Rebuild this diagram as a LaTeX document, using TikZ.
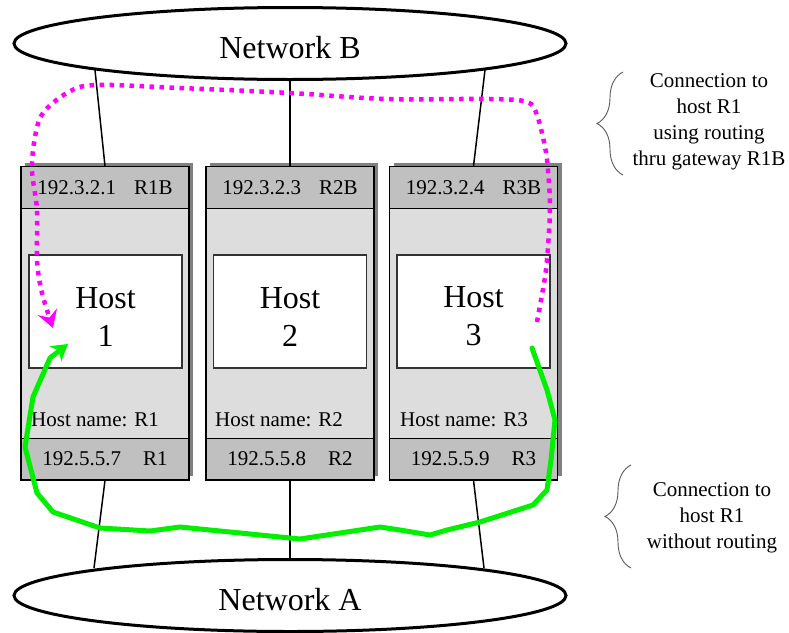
\documentclass[tikz,border=0pt]{standalone}
\usepackage{fontspec}
\setmainfont{Liberation Serif}
\usetikzlibrary{shapes.geometric,shadows,arrows.meta,decorations.pathreplacing}
\definecolor{hdrgray}{HTML}{C0C0C0}
\definecolor{bodygray}{HTML}{DDDDDD}
\definecolor{shadowgray}{HTML}{808080}
\definecolor{magline}{HTML}{FF00FF}
\definecolor{grnline}{HTML}{00F000}
\begin{document}
\begin{tikzpicture}[x=1pt,y=-1pt,
  net/.style={ellipse, draw, line width=3pt, fill=white, minimum width=552pt, minimum height=72pt, inner sep=0pt, font=\fontsize{32}{38}\selectfont},
  hostbody/.style={rectangle, draw, line width=1.3pt, fill=bodygray, minimum width=168pt, minimum height=313pt, inner sep=0pt, drop shadow={shadow xshift=4pt, shadow yshift=4pt, fill=shadowgray, opacity=1}},
  band/.style={rectangle, draw, line width=1.3pt, fill=hdrgray, minimum width=168pt, minimum height=41.5pt, inner sep=0pt, font=\fontsize{21}{25}\selectfont},
  hostbox/.style={rectangle, draw=black!80, line width=1.1pt, fill=white, minimum width=153pt, minimum height=113pt, inner sep=0pt, align=center, font=\fontsize{32}{38}\selectfont},
  hname/.style={anchor=west, inner sep=0pt, font=\fontsize{21}{25}\selectfont},
  wire/.style={line width=1.5pt},
  note/.style={align=center, inner sep=0pt, font=\fontsize{21}{26}\selectfont},
  notebrace/.style={draw=black!65, line width=0.9pt, decorate, decoration={brace, amplitude=26pt}},
  magpath/.style={draw=magline, line width=4.5pt, dash pattern=on 4.5pt off 5.5pt, -{Stealth[length=17pt, width=20pt, inset=6pt]}},
  grnpath/.style={draw=grnline, line width=5pt, line join=round, line cap=round, -{Stealth[length=16pt, width=19pt, inset=5pt]}}
]
\useasboundingbox (0,0) rectangle (789,632);

% networks
\node[net] (netB) at (290,43.5) {\raisebox{-4pt}[\height][\depth]{Network B}};
\node[net] (netA) at (290,595.5) {\raisebox{-4pt}[\height][\depth]{Network A}};

% host 1
\node[hostbody] (body1) at (105,323.5) {};
\node[band] (h1) at (105,187.5) {192.3.2.1\hspace{18pt}R1B};
\node[band] (f1) at (105,459) {192.5.5.7\hspace{22pt}R1};
\node[hostbox] (in1) at (105.5,311.5) {\rule{0pt}{31pt}Host\\1};
\node[hname] (n1) at (31,420) {Host name: R1};

% host 2
\node[hostbody] (body2) at (290,323.5) {};
\node[band] (h2) at (290,187.5) {192.3.2.3\hspace{18pt}R2B};
\node[band] (f2) at (290,459) {192.5.5.8\hspace{22pt}R2};
\node[hostbox] (in2) at (290,311.5) {\rule{0pt}{31pt}Host\\2};
\node[hname] (n2) at (215,420) {Host name: R2};

% host 3
\node[hostbody] (body3) at (473.5,323.5) {};
\node[band] (h3) at (473.5,187.5) {192.3.2.4\hspace{18pt}R3B};
\node[band] (f3) at (473.5,459) {192.5.5.9\hspace{22pt}R3};
\node[hostbox] (in3) at (473.5,311.5) {\rule{0pt}{31pt}Host\\3};
\node[hname] (n3) at (400,420) {Host name: R3};

% wires to network B
\coordinate (b1top) at (95,70);
\coordinate (b3top) at (485,70);
\draw[wire] (h1.north) -- (b1top);
\draw[wire] (h2.north) -- (netB.south);
\draw[wire] (h3.north) -- (b3top);

% wires to network A
\coordinate (a1bot) at (94,568);
\coordinate (a3bot) at (484,568);
\draw[wire] (f1.south) -- (a1bot);
\draw[wire] (f2.south) -- (netA.north);
\draw[wire] (f3.south) -- (a3bot);

% routed connection (magenta)
\coordinate (mstart) at (537,322);
\coordinate (mend) at (53,328);
\draw[magpath] plot[smooth, tension=0.55] coordinates {(mstart) (545,277) (548,247) (550,207) (548,170) (545,147) (537,115) (527,102) (490,99) (387,99) (290,93) (180,88) (95,85) (67,93) (43,113) (35,137) (32,170) (37,210) (37,260) (42,293) (mend)};

% direct connection (green)
\coordinate (gstart) at (532,348);
\coordinate (gend) at (68,344);
\draw[grnpath] (gstart) -- (547,390) -- (555,420) -- (551,460) -- (547,490) -- (533,505) -- (480,522) -- (447,530) -- (430,535) -- (400,530) -- (380,527) -- (300,539) -- (180,527) -- (150,531) -- (100,528) -- (53,512) -- (37,493) -- (25,447) -- (33,397) -- (50,358) -- (gend);

% annotations
\coordinate (br1a) at (623,175);
\coordinate (br1b) at (623,72);
\draw[notebrace] (br1a) -- (br1b);
\node[note] (note1) at (709,122) {Connection to\\host R1\\using routing\\thru gateway R1B};

\coordinate (br2a) at (631,568);
\coordinate (br2b) at (631,465);
\draw[notebrace] (br2a) -- (br2b);
\node[note] (note2) at (712,518) {Connection to\\host R1\\without routing};
\end{tikzpicture}
\end{document}
